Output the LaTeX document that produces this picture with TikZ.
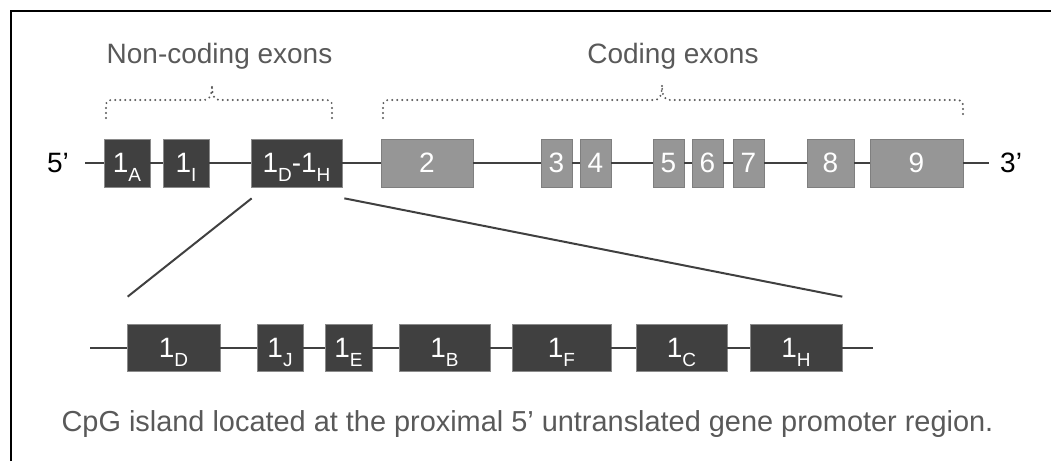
\documentclass[tikz,border=0pt]{standalone}
\usepackage{fontspec}
\setmainfont{Liberation Sans}
\usetikzlibrary{calc}
\definecolor{dk}{HTML}{404040}
\definecolor{lt}{HTML}{969696}
\definecolor{tx}{HTML}{595959}
\definecolor{bdl}{HTML}{7F7F7F}
\definecolor{bdd}{HTML}{8A8A8A}
\newcommand\sbx[1]{\smash{\raisebox{-9pt}{\fontsize{19}{19}\selectfont #1}}}
\begin{document}
\begin{tikzpicture}[x=1pt,y=-1pt,
  dbox/.style={draw=bdd, line width=0.7pt, fill=dk, text=white, minimum height=48pt, inner sep=0pt, font=\fontsize{28}{30}\selectfont},
  lbox/.style={dbox, fill=lt, draw=bdl},
  bb/.style={draw=dk, line width=2pt},
  lbl/.style={text=tx, font=\fontsize{28}{30}\selectfont, inner sep=0pt},
  brace/.style={draw=tx, line width=2.2pt, dash pattern=on 0pt off 5pt, line cap=round}
]
\useasboundingbox (0,0) rectangle (1051,461);
% frame
\draw[line width=2.6pt] (11,461) -- (11,11) -- (1051,11);

% top row
\coordinate (t0) at (85,163);
\coordinate (t1) at (989,163);
\node[dbox, minimum width=46pt] (a1) at (127,163) {1\sbx{A}};
\node[dbox, minimum width=46pt] (ai) at (186,163) {1\sbx{I}};
\node[dbox, minimum width=91pt] (dh) at (296.5,163) {1\sbx{D}-1\sbx{H}};
\node[lbox, minimum width=92pt] (e2) at (427,163) {2};
\node[lbox, minimum width=31pt] (e3) at (556.5,163) {3};
\node[lbox, minimum width=31pt] (e4) at (595.5,163) {4};
\node[lbox, minimum width=31pt] (e5) at (668.5,163) {5};
\node[lbox, minimum width=31pt] (e6) at (707.5,163) {6};
\node[lbox, minimum width=31pt] (e7) at (748.5,163) {7};
\node[lbox, minimum width=47pt] (e8) at (830.5,163) {8};
\node[lbox, minimum width=93pt] (e9) at (916.5,163) {9};
\foreach \p/\q in {t0/a1, a1/ai, ai/dh, dh/e2, e2/e3, e3/e4, e4/e5, e5/e6, e6/e7, e7/e8, e8/e9, e9/t1}
  \draw[bb] (\p) -- (\q);

\node[lbl, text=black, anchor=east] (five) at (69,163) {5’};
\node[lbl, text=black, anchor=west] (three) at (1000,163) {3’};

% bottom row
\coordinate (b0) at (90,347.5);
\coordinate (b1) at (873,347.5);
\node[dbox, minimum width=93pt, minimum height=47pt] (d) at (173.5,347.5) {1\sbx{D}};
\node[dbox, minimum width=46pt, minimum height=47pt] (j) at (280,347.5) {1\sbx{J}};
\node[dbox, minimum width=47pt, minimum height=47pt] (e) at (348.5,347.5) {1\sbx{E}};
\node[dbox, minimum width=91pt, minimum height=47pt] (b) at (444.5,347.5) {1\sbx{B}};
\node[dbox, minimum width=99pt, minimum height=47pt] (f) at (561.5,347.5) {1\sbx{F}};
\node[dbox, minimum width=91pt, minimum height=47pt] (c) at (681.5,347.5) {1\sbx{C}};
\node[dbox, minimum width=92pt, minimum height=47pt] (h) at (796,347.5) {1\sbx{H}};
\foreach \p/\q in {b0/d, d/j, j/e, e/b, b/f, f/c, c/h, h/b1}
  \draw[bb] (\p) -- (\q);

% zoom lines
\draw[bb] ($(dh.south west)+(1,11)$) -- ($(d.north west)+(1,-27)$);
\draw[bb] ($(dh.south east)+(2,11)$) -- ($(h.north east)+(0,-27)$);

% braces
\draw[brace] (106,118) -- (106,106) .. controls (106,101) and (108,100) .. (113,100) -- (204,100)
  .. controls (209,100) and (212,97) .. (212,85) .. controls (212,97) and (215,100) .. (220,100)
  -- (325,100) .. controls (330,100) and (332,101) .. (332,106) -- (332,118);
\draw[brace] (383,118) -- (383,106) .. controls (383,101) and (385,100) .. (390,100) -- (654,100)
  .. controls (659,100) and (662,97) .. (662,85) .. controls (662,97) and (665,100) .. (670,100)
  -- (956,100) .. controls (961,100) and (963,101) .. (963,106) -- (963,118);

% labels
\node[lbl, anchor=base] (nc) at (219.5,63) {Non-coding exons};
\node[lbl, anchor=base] (ce) at (673,63) {Coding exons};
\node[lbl, anchor=base, font=\fontsize{28.9}{31}\selectfont] (cap) at (527.5,431) {CpG island located at the proximal 5’ untranslated gene promoter region.};
\end{tikzpicture}
\end{document}
